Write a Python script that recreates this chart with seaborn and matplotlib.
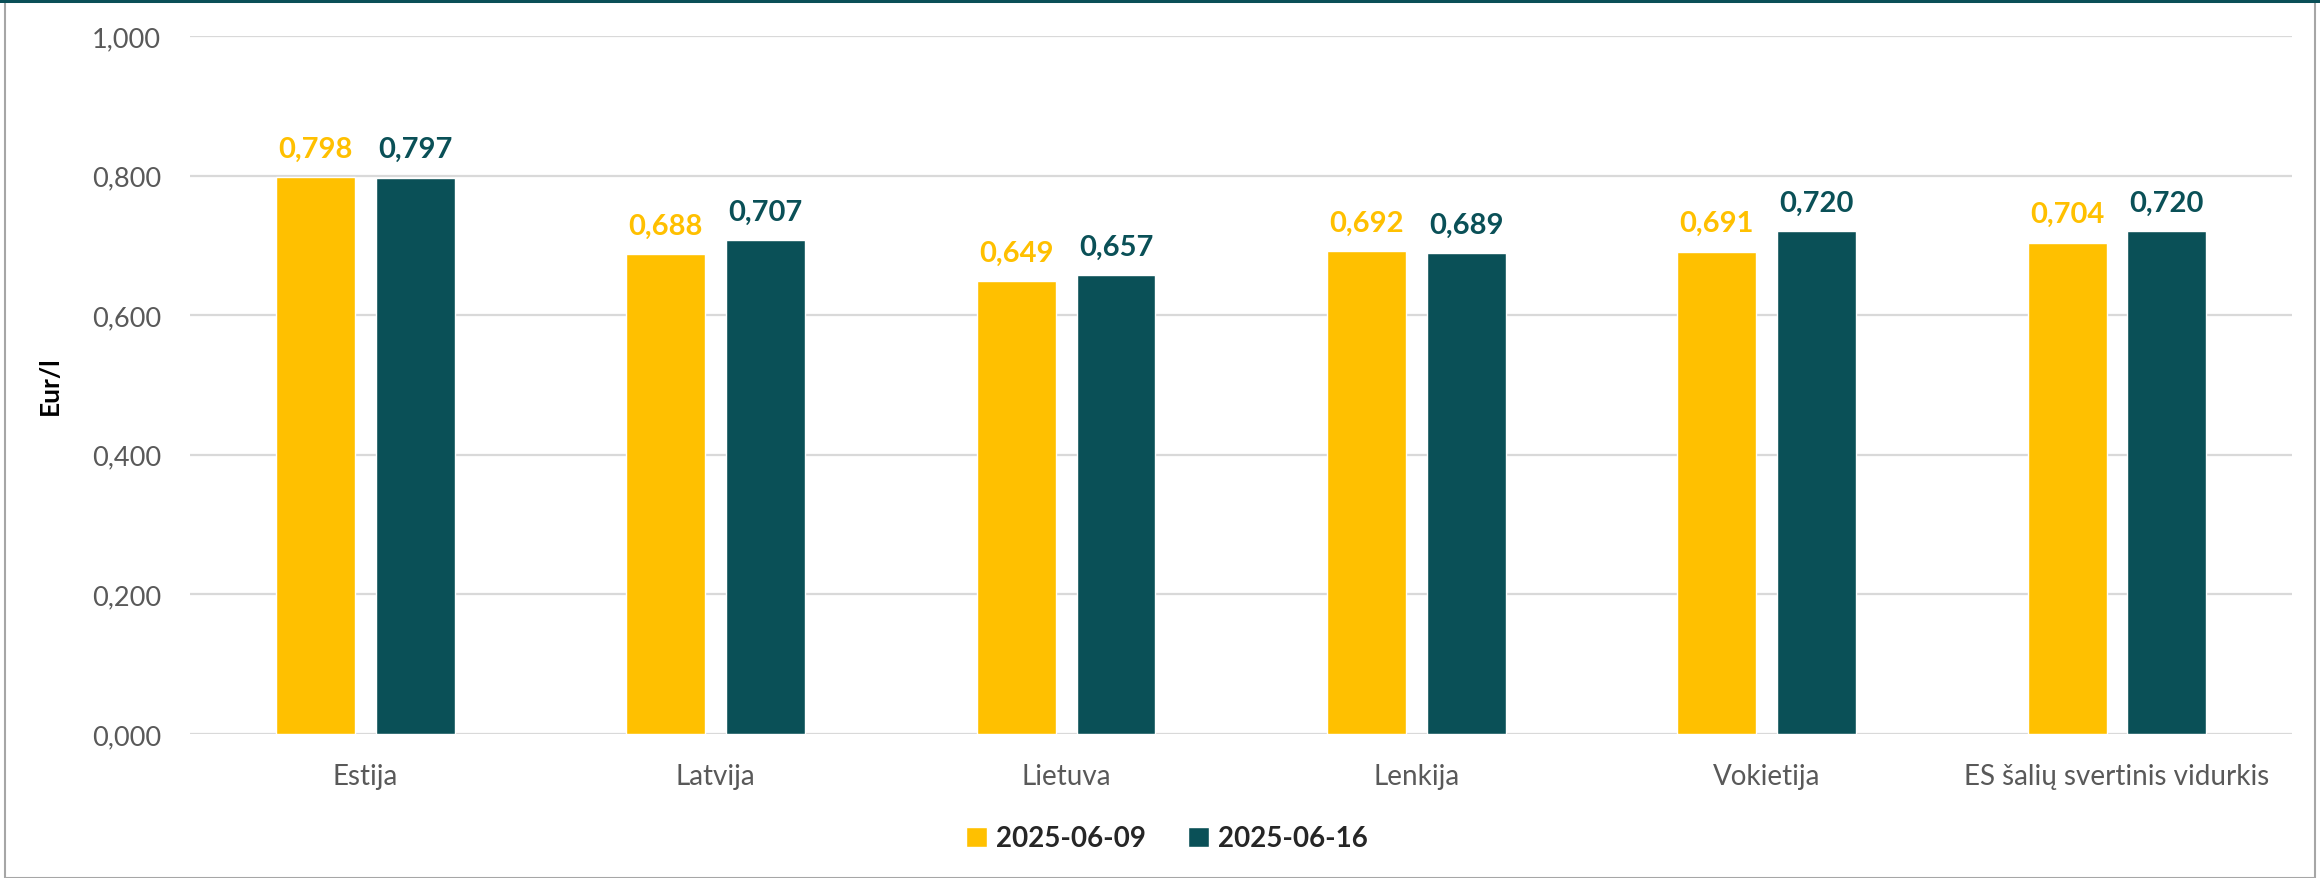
import pandas as pd
import matplotlib
matplotlib.use("Agg")
import matplotlib.pyplot as plt
from matplotlib.patches import Rectangle
from matplotlib.ticker import FuncFormatter
import seaborn as sns

# data
countries = ["Estija", "Latvija", "Lietuva", "Lenkija", "Vokietija",
             "ES šalių svertinis vidurkis"]
dates = ["2025-06-09", "2025-06-16"]
price_0609 = [0.798, 0.688, 0.649, 0.692, 0.691, 0.704]
price_0616 = [0.797, 0.707, 0.657, 0.689, 0.720, 0.720]

colors = ["#FFC000", "#0A5057"]
gray = "#595959"


def comma(v, pos=None):
    return f"{v:.3f}".replace(".", ",")


def main():
    df = pd.DataFrame({
        "country": countries * 2,
        "date": [dates[0]] * len(countries) + [dates[1]] * len(countries),
        "price": price_0609 + price_0616,
    })

    sns.set_theme(style="white")
    plt.rcParams["font.family"] = ["Lato", "DejaVu Sans"]

    fig = plt.figure(figsize=(23.2, 8.79), dpi=100)
    ax = fig.add_axes([0.082, 0.164, 0.906, 0.794])

    sns.barplot(data=df, x="country", y="price", hue="date",
                palette=colors, width=0.57, gap=0.21, saturation=1,
                order=countries, hue_order=dates, ax=ax, legend=True)

    # value labels above bars, coloured like the series
    for cont, col in zip(ax.containers, colors):
        ax.bar_label(cont, labels=[comma(b.get_height()) for b in cont],
                     padding=11, color=col, fontsize=21, fontweight="bold")

    ax.set_ylim(0, 1.0)
    ax.set_xlim(-0.5, len(countries) - 0.5)
    ax.set_yticks([0, 0.2, 0.4, 0.6, 0.8, 1.0])
    ax.yaxis.set_major_formatter(FuncFormatter(comma))
    ax.grid(axis="y", color="#D9D9D9", linewidth=1.6)
    ax.set_axisbelow(True)
    for s in ax.spines.values():
        s.set_visible(False)
    ax.tick_params(axis="y", length=0, pad=21, labelsize=19.5, labelcolor=gray)
    ax.tick_params(axis="x", length=0, pad=21, labelsize=20, labelcolor=gray)
    ax.set_xlabel("")
    ax.set_ylabel("Eur/l", fontsize=19, fontweight="bold", color="black")
    ax.yaxis.set_label_coords(-0.061, 0.5)

    # legend at the bottom
    handles, labels = ax.get_legend_handles_labels()
    ax.get_legend().remove()
    fig.legend(handles, labels, loc="center", bbox_to_anchor=(0.503, 0.045),
               ncol=2, frameon=False, handlelength=0.75, handleheight=0.75,
               columnspacing=1.5, handletextpad=0.35,
               prop={"size": 20, "weight": "bold"})

    # frame around the chart and the dark top strip
    fig.patches.append(Rectangle((0.002, 0.0), 0.996, 0.997, transform=fig.transFigure,
                                 fill=False, edgecolor="#A6A6A6", linewidth=1.5))
    fig.patches.append(Rectangle((0, 0.995), 1, 0.005, transform=fig.transFigure,
                                 facecolor="#0A4F57", edgecolor="none"))

    fig.savefig("out.png", dpi=100, facecolor="white")


if __name__ == "__main__":
    main()
